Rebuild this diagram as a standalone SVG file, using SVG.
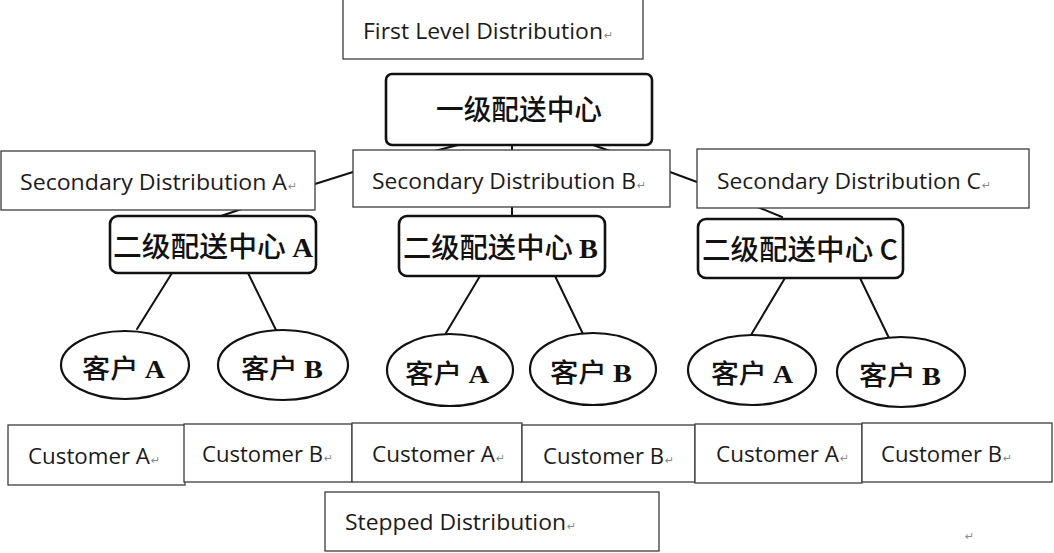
<svg xmlns="http://www.w3.org/2000/svg" width="1054" height="553" viewBox="0 0 1054 553">
  <style>
    .box{fill:#fff;stroke:#3c3c3c;stroke-width:1.3}
    .cn{fill:#fff;stroke:#111;stroke-width:2.6}
    .ell{fill:#fff;stroke:#111;stroke-width:2.2}
    .link{stroke:#111;stroke-width:2;fill:none;stroke-linecap:round}
    .en{font-family:"Open Sans","Liberation Sans",sans-serif;font-size:21px;fill:#1b1b1b}
    .zh{font-family:"Noto Sans CJK SC",sans-serif;font-size:28px;font-weight:500;fill:#111}
    .zs{font-family:"Noto Sans CJK SC",sans-serif;font-size:26px;font-weight:500;fill:#111}
    .lat{font-family:"Liberation Serif",serif;font-weight:bold}
    .pm{font-family:"DejaVu Sans",sans-serif;font-size:11px;fill:#8a8a8a}
  </style>
  <rect width="1054" height="553" fill="#fff"/>

  <!-- tree connectors -->
  <g id="connectors">
    <path class="link" d="M458,145 L353,172 L315,184 L218,217"/>
    <path class="link" d="M512,145 L512,217"/>
    <path class="link" d="M593,145 L670,172 L697,182 L782,217"/>
    <path class="link" d="M172,273 L137,329"/>
    <path class="link" d="M248,273 L276,330"/>
    <path class="link" d="M480,276 L446,333"/>
    <path class="link" d="M555,276 L583,334"/>
    <path class="link" d="M785,278 L751,335"/>
    <path class="link" d="M860,278 L889,338"/>
  </g>

  <g id="label-first-level">
    <rect class="box" x="343" y="-2" width="300" height="61"/>
    <text class="en" x="363" y="39" textLength="240" lengthAdjust="spacingAndGlyphs">First Level Distribution</text>
    <text class="pm" x="604" y="39">↵</text>
  </g>

  <g id="center-first">
    <rect class="cn" x="386" y="74" width="266" height="71" rx="6"/>
    <text class="zh" x="519" y="120" text-anchor="middle" textLength="166" lengthAdjust="spacingAndGlyphs">一级配送中心</text>
  </g>

  <g id="label-secondary-a">
    <rect class="box" x="1" y="151" width="314" height="59"/>
    <text class="en" x="20" y="190" textLength="267" lengthAdjust="spacingAndGlyphs">Secondary Distribution A</text>
    <text class="pm" x="288" y="190">↵</text>
  </g>
  <g id="label-secondary-b">
    <rect class="box" x="353" y="150" width="317" height="57"/>
    <text class="en" x="372" y="189" textLength="264" lengthAdjust="spacingAndGlyphs">Secondary Distribution B</text>
    <text class="pm" x="637" y="189">↵</text>
  </g>
  <g id="label-secondary-c">
    <rect class="box" x="697" y="149" width="332" height="59"/>
    <text class="en" x="717" y="189" textLength="264" lengthAdjust="spacingAndGlyphs">Secondary Distribution C</text>
    <text class="pm" x="982" y="189">↵</text>
  </g>

  <g id="center-second-a">
    <rect class="cn" x="110" y="216" width="206" height="57" rx="8"/>
    <text class="zh" x="113" y="257" textLength="200" lengthAdjust="spacingAndGlyphs">二级配送中心 <tspan class="lat">A</tspan></text>
  </g>
  <g id="center-second-b">
    <rect class="cn" x="399" y="216" width="206" height="60" rx="8"/>
    <text class="zh" x="403" y="258" textLength="195" lengthAdjust="spacingAndGlyphs">二级配送中心 <tspan class="lat">B</tspan></text>
  </g>
  <g id="center-second-c">
    <rect class="cn" x="698" y="219" width="205" height="59" rx="8"/>
    <text class="zh" x="702" y="260" textLength="196" lengthAdjust="spacingAndGlyphs">二级配送中心 C</text>
  </g>

  <g id="client-a1">
    <ellipse class="ell" cx="125" cy="365" rx="64" ry="34"/>
    <text class="zs" x="82" y="378" textLength="83" lengthAdjust="spacingAndGlyphs">客户 <tspan class="lat">A</tspan></text>
  </g>
  <g id="client-b1">
    <ellipse class="ell" cx="283" cy="365" rx="65" ry="35"/>
    <text class="zs" x="241" y="378" textLength="82" lengthAdjust="spacingAndGlyphs">客户 <tspan class="lat">B</tspan></text>
  </g>
  <g id="client-a2">
    <ellipse class="ell" cx="450" cy="370" rx="63" ry="36"/>
    <text class="zs" x="405" y="383" textLength="84" lengthAdjust="spacingAndGlyphs">客户 <tspan class="lat">A</tspan></text>
  </g>
  <g id="client-b2">
    <ellipse class="ell" cx="593" cy="369" rx="63" ry="36"/>
    <text class="zs" x="550" y="382" textLength="82" lengthAdjust="spacingAndGlyphs">客户 <tspan class="lat">B</tspan></text>
  </g>
  <g id="client-a3">
    <ellipse class="ell" cx="752" cy="370" rx="64" ry="35"/>
    <text class="zs" x="711" y="383" textLength="82" lengthAdjust="spacingAndGlyphs">客户 <tspan class="lat">A</tspan></text>
  </g>
  <g id="client-b3">
    <ellipse class="ell" cx="901" cy="372" rx="64" ry="35"/>
    <text class="zs" x="859" y="385" textLength="82" lengthAdjust="spacingAndGlyphs">客户 <tspan class="lat">B</tspan></text>
  </g>

  <g id="label-customer-a1">
    <rect class="box" x="8" y="425" width="177" height="60"/>
    <text class="en" x="28" y="464" textLength="122" lengthAdjust="spacingAndGlyphs">Customer A</text>
    <text class="pm" x="151" y="464">↵</text>
  </g>
  <g id="label-customer-b1">
    <rect class="box" x="184" y="424" width="168" height="58"/>
    <text class="en" x="202" y="462" textLength="121" lengthAdjust="spacingAndGlyphs">Customer B</text>
    <text class="pm" x="324" y="462">↵</text>
  </g>
  <g id="label-customer-a2">
    <rect class="box" x="352" y="423" width="170" height="59"/>
    <text class="en" x="372" y="462" textLength="123" lengthAdjust="spacingAndGlyphs">Customer A</text>
    <text class="pm" x="496" y="462">↵</text>
  </g>
  <g id="label-customer-b2">
    <rect class="box" x="522" y="425" width="173" height="57"/>
    <text class="en" x="543" y="464" textLength="121" lengthAdjust="spacingAndGlyphs">Customer B</text>
    <text class="pm" x="665" y="464">↵</text>
  </g>
  <g id="label-customer-a3">
    <rect class="box" x="695" y="424" width="167" height="59"/>
    <text class="en" x="716" y="462" textLength="123" lengthAdjust="spacingAndGlyphs">Customer A</text>
    <text class="pm" x="840" y="462">↵</text>
  </g>
  <g id="label-customer-b3">
    <rect class="box" x="862" y="423" width="190" height="59"/>
    <text class="en" x="881" y="462" textLength="121" lengthAdjust="spacingAndGlyphs">Customer B</text>
    <text class="pm" x="1003" y="462">↵</text>
  </g>

  <g id="label-stepped">
    <rect class="box" x="325" y="492" width="334" height="59"/>
    <text class="en" x="345" y="530" textLength="221" lengthAdjust="spacingAndGlyphs">Stepped Distribution</text>
    <text class="pm" x="567" y="530">↵</text>
  </g>
  <text class="pm" x="965" y="540">↵</text>
</svg>
